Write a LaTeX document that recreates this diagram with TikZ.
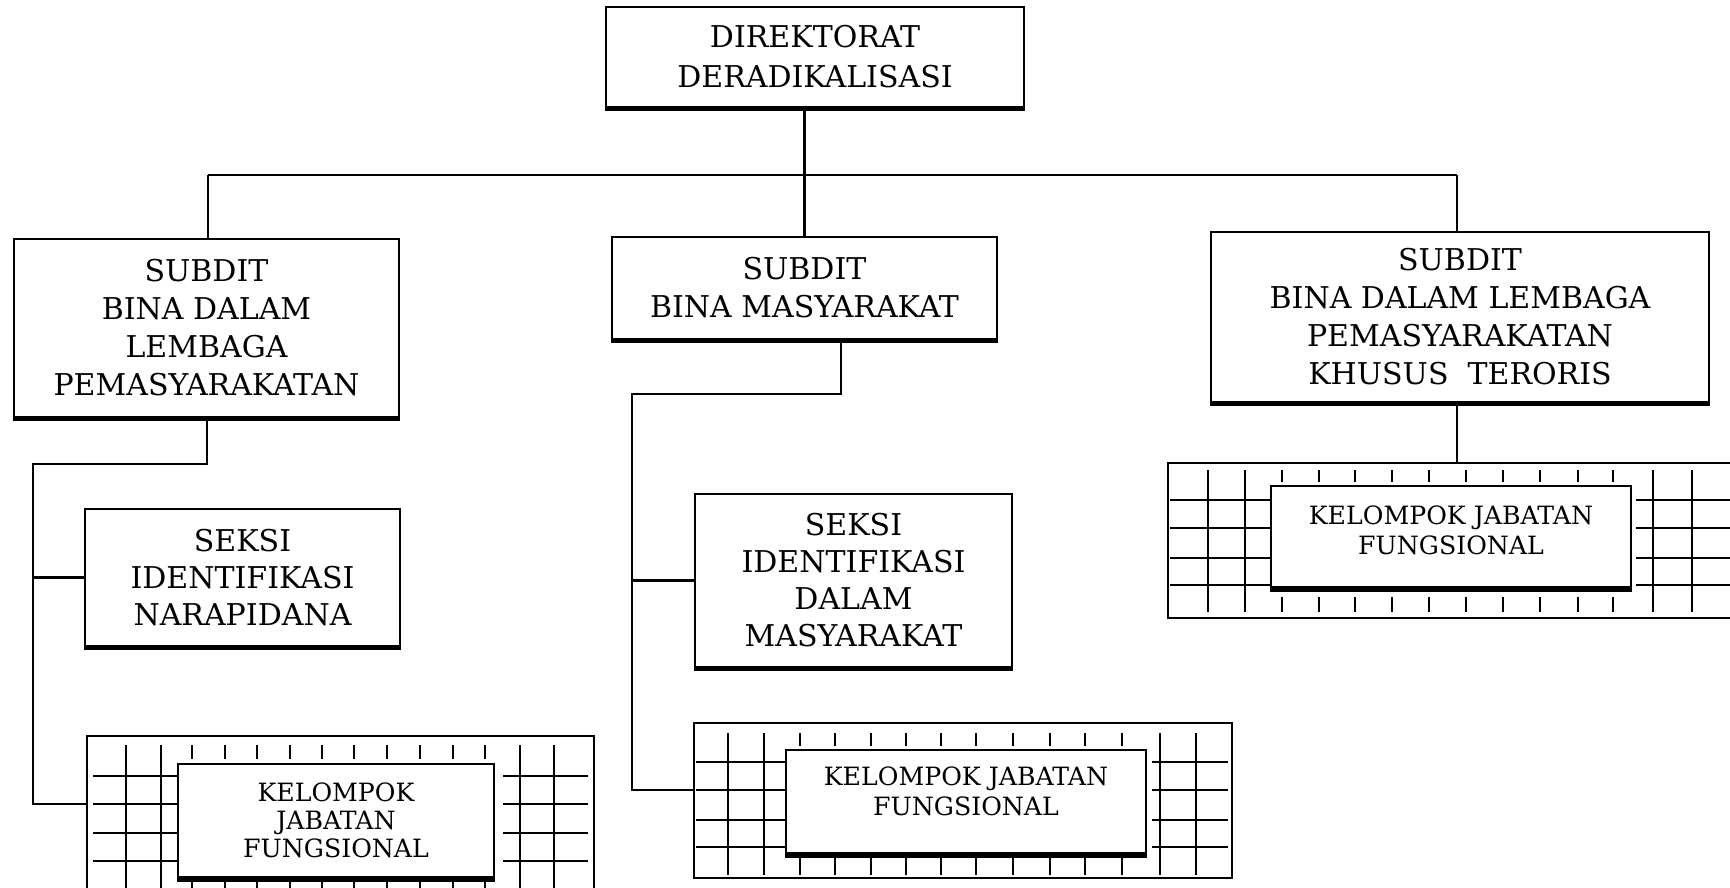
\documentclass[tikz,border=0pt]{standalone}
\usepackage{fontspec}
\setmainfont{DejaVu Serif}
\begin{document}
\begin{tikzpicture}[x=0.5pt,y=-0.5pt,
  line join=miter,
  box/.style={draw, line width=1pt, inner sep=0pt, align=center, font=\fontsize{15}{19}\selectfont},
  shadowline/.style={line width=2.2pt},
  conn/.style={line width=1.1pt},
  gouter/.style={draw, line width=1.1pt, inner sep=0pt},
  ginner/.style={draw, fill=white, line width=1.1pt, inner sep=0pt},
  gtext/.style={align=center, inner sep=0pt, font=\fontsize{12.6}{15}\selectfont},
  gline/.style={line width=1.2pt}]
\useasboundingbox (0,0) rectangle (1730,888);
\clip (0,0) rectangle (1730,888);

% main boxes
\node[box, minimum width=209pt, minimum height=50pt] (top) at (815,57) {DIREKTORAT\\[1pt]DERADIKALISASI};
\node[box, minimum width=192.5pt, minimum height=89pt] (lsub) at (206.5,328) {SUBDIT\\BINA DALAM\\LEMBAGA\\PEMASYARAKATAN};
\node[box, minimum width=192.5pt, minimum height=51pt] (msub) at (804.5,288) {SUBDIT\\BINA MASYARAKAT};
\node[box, minimum width=249pt, minimum height=85pt] (rsub) at (1460,317) {SUBDIT\\BINA DALAM LEMBAGA\\PEMASYARAKATAN\\KHUSUS\ \ TERORIS};
\node[box, minimum width=157.5pt, minimum height=68.5pt, font=\fontsize{15}{18.5}\selectfont] (lsek) at (242.5,577.5) {SEKSI\\IDENTIFIKASI\\NARAPIDANA};
\node[box, minimum width=158.5pt, minimum height=86.5pt, font=\fontsize{15}{18.5}\selectfont] (msek) at (853.5,580.5) {SEKSI\\IDENTIFIKASI\\DALAM\\MASYARAKAT};
\foreach \n in {top,lsub,msub,rsub,lsek,msek}
  \draw[shadowline] ([yshift=-0.6pt]\n.south west) -- ([yshift=-0.6pt]\n.south east);

% ---------- left grid ----------
\node[gouter, minimum width=253.5pt, minimum height=84.5pt] (lgo) at (340.5,820.5) {};
\foreach \x in {126,161,520,554} \draw[gline] (\x,745) -- (\x,905);
\foreach \x in {192,225,257,290,322,354,387,420,453,485} {
  \draw[gline] (\x,745) -- (\x,759);
  \draw[gline] (\x,882) -- (\x,905);}
\foreach \y in {776,804,833,861} {
  \draw[gline] (93,\y) -- (178,\y);
  \draw[gline] (503,\y) -- (588,\y);}
\node[ginner, minimum width=158pt, minimum height=56.5pt] (lgi) at (336,820.5) {};
\draw[shadowline] ([yshift=-0.6pt]lgi.south west) -- ([yshift=-0.6pt]lgi.south east);
\node[gtext, font=\fontsize{12.6}{14}\selectfont] (lgt) at (336,820) {KELOMPOK\\JABATAN\\FUNGSIONAL};

% ---------- middle grid ----------
\node[gouter, minimum width=269pt, minimum height=77.5pt] (mgo) at (963,800.5) {};
\foreach \x in {728,764,1160,1196} \draw[gline] (\x,733) -- (\x,875);
\foreach \x in {800,835,871,906,941,976,1013,1050,1085,1122} {
  \draw[gline] (\x,733) -- (\x,746);
  \draw[gline] (\x,858) -- (\x,875);}
\foreach \y in {762,790,820,847} {
  \draw[gline] (696,\y) -- (786,\y);
  \draw[gline] (1152,\y) -- (1228,\y);}
\node[ginner, minimum width=180pt, minimum height=51.5pt] (mgi) at (966,801.5) {};
\draw[shadowline] ([yshift=-0.6pt]mgi.south west) -- ([yshift=-0.6pt]mgi.south east);
\node[gtext] (mgt) at (966,791) {KELOMPOK JABATAN\\FUNGSIONAL};

% ---------- right grid ----------
\node[gouter, minimum width=288.5pt, minimum height=77.5pt] (rgo) at (1456.5,540.5) {};
\foreach \x in {1208,1245,1653,1692} \draw[gline] (\x,470) -- (\x,612);
\foreach \x in {1282,1319,1355,1392,1429,1466,1503,1540,1578,1613} {
  \draw[gline] (\x,470) -- (\x,482);
  \draw[gline] (\x,597) -- (\x,612);}
\foreach \y in {500,528,558,585} {
  \draw[gline] (1170,\y) -- (1271,\y);
  \draw[gline] (1636,\y) -- (1730,\y);}
\node[ginner, minimum width=180pt, minimum height=50.5pt] (rgi) at (1451,536.5) {};
\draw[shadowline] ([yshift=-0.6pt]rgi.south west) -- ([yshift=-0.6pt]rgi.south east);
\node[gtext] (rgt) at (1451,530) {KELOMPOK JABATAN\\FUNGSIONAL};

% ---------- connectors ----------
\coordinate (busL) at (208,175);
\coordinate (busR) at (1457,175);
\draw[conn] (top.south -| msub.north) -- (msub.north);
\draw[conn] (busL) -- (busR);
\draw[conn] (busL) -- (busL |- lsub.north);
\draw[conn] (busR) -- (busR |- rsub.north);

\coordinate (l1) at (207,464);
\coordinate (l2) at (33,464);
\coordinate (l3) at (33,804);
\draw[conn] (l1 |- lsub.south) -- (l1) -- (l2) -- (l3) -- (l3 -| lgo.west);
\draw[conn] (l2 |- lsek.west) -- (lsek.west);

\coordinate (m1) at (841,394);
\coordinate (m2) at (632,394);
\coordinate (m3) at (632,790);
\draw[conn] (m1 |- msub.south) -- (m1) -- (m2) -- (m3) -- (m3 -| mgo.west);
\draw[conn] (m2 |- msek.west) -- (msek.west);

\draw[conn] (busR |- rsub.south) -- (busR |- rgo.north);
\end{tikzpicture}
\end{document}
